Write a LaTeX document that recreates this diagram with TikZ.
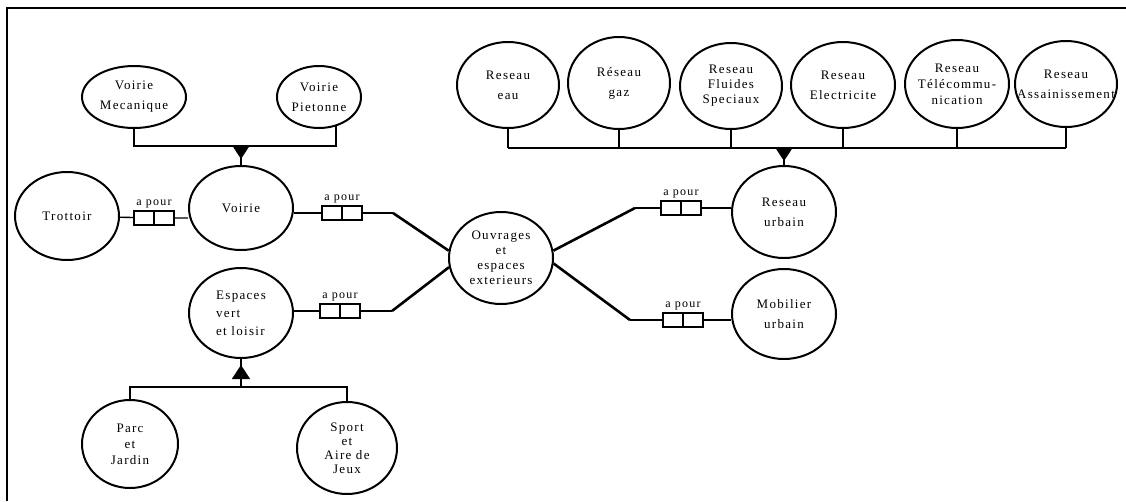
\documentclass[tikz,border=0pt]{standalone}
\usepackage{fontspec}
\setmainfont{Liberation Serif}[LetterSpace=10]
\usetikzlibrary{arrows.meta, shapes.geometric, calc}

\tikzset{
  ent/.style={draw, ellipse, line width=2pt, inner sep=0pt, align=center,
    font=\fontsize{13}{20}\selectfont},
  apour/.style={draw, rectangle, line width=1.6pt, minimum width=40pt,
    minimum height=14pt, inner sep=0pt,
    path picture={\draw[line width=1.4pt] (path picture bounding box.north)
      -- (path picture bounding box.south);},
    label={[font=\fontsize{12}{14}\selectfont, inner sep=2pt]above:a pour}},
  link/.style={line width=1.4pt},
  branch/.style={line width=2.6pt},
  tree/.style={line width=1.6pt},
  tip/.style={-{Triangle[width=18pt,length=14pt]}, line width=1.6pt}
}

\begin{document}
\begin{tikzpicture}[x=1pt, y=-1pt]
  \useasboundingbox (0,0) rectangle (1126,501);
  % cadre
  \draw[line width=1.8pt] (7,501) -- (7,8) -- (1126,8);

  % voirie
  \node[ent, minimum width=104pt, minimum height=62pt] (mec) at (134,97) {Voirie\\Mecanique};
  \node[ent, minimum width=84pt, minimum height=62pt] (pie) at (319,97) {Voirie\\Pietonne};
  \node[ent, minimum width=104pt, minimum height=84pt] (voirie) at (241,208) {Voirie};
  \node[ent, minimum width=104pt, minimum height=88pt] (trottoir) at (67,216) {Trottoir};
  \coordinate (vj) at (241,146);
  \draw[tree] (mec.south) |- (vj) -| (pie.-60);
  \draw[tree] (vj) -- (voirie.north);
  \draw[tip] (vj) -- ++(0,13);

  % espaces verts
  \node[ent, align=left, minimum width=104pt, minimum height=90pt] (espaces) at (241,313)
    {Espaces\\[-2pt]vert\\[-2pt]et loisir};
  \node[ent, minimum width=96pt, minimum height=88pt] (parc) at (130,444) {Parc\\[-4pt]et\\[-4pt]Jardin};
  \node[ent, minimum width=100pt, minimum height=92pt] (sport) at (347,448)
    {Sport\\[-6pt]et\\[-6pt]Aire de\\[-6pt]Jeux};
  \coordinate (ej) at (241,387);
  \draw[tree] (parc.north) |- (ej) -| (sport.north);
  \draw[tree] (ej) -- (espaces.south);
  \draw[tip] ([yshift=7pt]ej) -- ++(0,-15);

  % centre
  \node[ent, minimum width=104pt, minimum height=92pt] (ouvrages) at (501,258)
    {Ouvrages\\[-5pt]et\\[-5pt]espaces\\[-5pt]exterieurs};

  % reseaux
  \node[ent, minimum width=102pt, minimum height=86pt] (eau) at (508,85) {Reseau\\eau};
  \node[ent, minimum width=102pt, minimum height=92pt] (gaz) at (619,83) {Réseau\\gaz};
  \node[ent, minimum width=102pt, minimum height=86pt] (flu) at (731,86)
    {Reseau\\[-5pt]Fluides\\[-5pt]Speciaux};
  \node[ent, minimum width=104pt, minimum height=86pt] (ele) at (843,85) {Reseau\\Electricite};
  \node[ent, minimum width=104pt, minimum height=88pt] (tel) at (957,84)
    {Reseau\\[-4pt]\makebox[60pt]{Télécommu-}\\[-4pt]nication};
  \node[ent, minimum width=102pt, minimum height=86pt] (ass) at (1066,84)
    {Reseau\\\makebox[60pt]{Assainissement}};
  \node[ent, minimum width=104pt, minimum height=92pt] (urbain) at (784,212) {Reseau\\urbain};
  \node[ent, minimum width=104pt, minimum height=90pt] (mob) at (784,314) {Mobilier\\urbain};
  \coordinate (rj) at (784,148);
  \foreach \r in {eau,gaz,flu,ele,tel,ass}
    \draw[tree] (\r.south) -- (\r.south |- rj);
  \draw[tree] (eau.south |- rj) -- (ass.south |- rj);
  \draw[tree] (rj) -- (urbain.north);
  \draw[tip] (rj) -- ++(0,13);

  % liens a pour
  \node[apour] (b1) at (154,218) {};
  \node[apour] (b2) at (342,213) {};
  \node[apour] (b3) at (340,311) {};
  \node[apour] (b4) at (681,208) {};
  \node[apour] (b5) at (683,320) {};
  \coordinate (k1) at (393,213);
  \coordinate (k2) at (392,311);
  \coordinate (k3) at (635,208);
  \coordinate (k4) at (630,320);

  \draw[link] (trottoir) -- (b1) -- (b1 -| voirie.west);
  \draw[link] (b2 -| voirie.east) -- (b2) -- (k1);
  \draw[branch] (k1) -- (ouvrages.172);
  \draw[link] (b3 -| espaces.east) -- (b3) -- (k2);
  \draw[branch] (k2) -- (ouvrages.190);
  \draw[branch] (ouvrages.8) -- (k3);
  \draw[link] (k3) -- (b4) -- (b4 -| urbain.west);
  \draw[branch] (ouvrages.-6) -- (k4);
  \draw[link] (k4) -- (b5) -- (b5 -| mob.west);
\end{tikzpicture}
\end{document}
